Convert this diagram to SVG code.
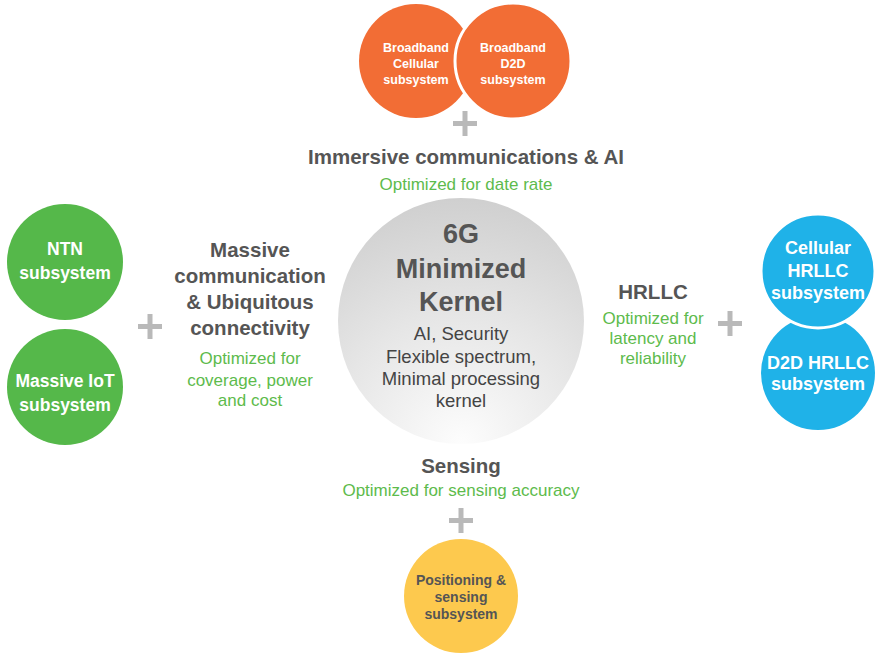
<svg xmlns="http://www.w3.org/2000/svg" width="882" height="653" viewBox="0 0 882 653">
<defs>
<radialGradient id="kg" cx="0.5" cy="1.0" r="1.05" fx="0.5" fy="1.0">
<stop offset="0" stop-color="#fdfdfd"/>
<stop offset="0.5" stop-color="#e6e6e6"/>
<stop offset="1" stop-color="#cdcdcd"/>
</radialGradient>
</defs>
<style>
text{font-family:"Liberation Sans",Arial,sans-serif;text-anchor:middle}
.t{font-weight:bold;fill:#555555;font-size:20.5px}
.g{fill:#5dbb4c;font-size:17px}
.w{fill:#ffffff;font-weight:bold}
.plus{fill:#b9b9b9}
</style>
<rect width="882" height="653" fill="#ffffff"/>
<g id="connectors">
<path class="plus" d="M453,121h24v5h-24z M462.5,111h5v25h-5z"/>
<path class="plus" d="M138,324h24v5h-24z M147.5,314h5v25h-5z"/>
<path class="plus" d="M718,321h24v5h-24z M727.5,311h5v25h-5z"/>
<path class="plus" d="M449,518h24v5h-24z M458.5,508h5v25h-5z"/>
</g>
<g id="broadband-cellular">
<circle cx="416" cy="61" r="57" fill="#f26d35"/>
<text class="w" font-size="12.5" x="416" y="52">Broadband</text>
<text class="w" font-size="12.5" x="416" y="68">Cellular</text>
<text class="w" font-size="12.5" x="416" y="84">subsystem</text>
</g>
<g id="broadband-d2d">
<circle cx="513" cy="61" r="58" fill="#f26d35" stroke="#ffffff" stroke-width="3"/>
<text class="w" font-size="12.5" x="513" y="52">Broadband</text>
<text class="w" font-size="12.5" x="513" y="68">D2D</text>
<text class="w" font-size="12.5" x="513" y="84">subsystem</text>
</g>
<g id="immersive">
<text class="t" x="466" y="164">Immersive communications &amp; AI</text>
<text class="g" x="466" y="190">Optimized for date rate</text>
</g>
<g id="kernel">
<circle cx="461" cy="321" r="123" fill="url(#kg)"/>
<text font-size="27" font-weight="bold" fill="#555555" x="461" y="243">6G</text>
<text font-size="27" font-weight="bold" fill="#555555" x="461" y="278">Minimized</text>
<text font-size="27" font-weight="bold" fill="#555555" x="461" y="311">Kernel</text>
<text font-size="18.5" fill="#444444" x="461" y="340">AI, Security</text>
<text font-size="18.5" fill="#444444" x="461" y="363">Flexible spectrum,</text>
<text font-size="18.5" fill="#444444" x="461" y="385">Minimal processing</text>
<text font-size="18.5" fill="#444444" x="461" y="407">kernel</text>
</g>
<g id="ntn">
<circle cx="65" cy="262" r="58" fill="#55b84a"/>
<text class="w" font-size="17.5" x="65" y="255">NTN</text>
<text class="w" font-size="17.5" x="65" y="279">subsystem</text>
</g>
<g id="massive-iot">
<circle cx="65" cy="387" r="58" fill="#55b84a"/>
<text class="w" font-size="17.5" x="65" y="387">Massive IoT</text>
<text class="w" font-size="17.5" x="65" y="411">subsystem</text>
</g>
<g id="massive">
<text class="t" font-size="21.4" x="250" y="257">Massive</text>
<text class="t" font-size="21.4" x="250" y="283">communication</text>
<text class="t" font-size="21.4" x="250" y="309">&amp; Ubiquitous</text>
<text class="t" font-size="21.4" x="250" y="335">connectivity</text>
<text class="g" x="250" y="364">Optimized for</text>
<text class="g" x="250" y="386">coverage, power</text>
<text class="g" x="250" y="406">and cost</text>
</g>
<g id="hrllc">
<text class="t" x="653" y="299">HRLLC</text>
<text class="g" x="653" y="324">Optimized for</text>
<text class="g" x="653" y="344">latency and</text>
<text class="g" x="653" y="364">reliability</text>
</g>
<g id="d2d-hrllc">
<circle cx="818" cy="373" r="57" fill="#1fb2e8"/>
<text class="w" font-size="18" x="818" y="369">D2D HRLLC</text>
<text class="w" font-size="18" x="818" y="390">subsystem</text>
</g>
<g id="cellular-hrllc">
<circle cx="818" cy="271" r="57" fill="#1fb2e8" stroke="#ffffff" stroke-width="3"/>
<text class="w" font-size="18" x="818" y="254">Cellular</text>
<text class="w" font-size="18" x="818" y="277">HRLLC</text>
<text class="w" font-size="18" x="818" y="299">subsystem</text>
</g>
<g id="sensing">
<text class="t" x="461" y="473">Sensing</text>
<text class="g" x="461" y="496">Optimized for sensing accuracy</text>
</g>
<g id="positioning">
<circle cx="461" cy="596" r="57" fill="#fdc94e"/>
<text font-size="14" font-weight="bold" fill="#555555" x="461" y="585">Positioning &amp;</text>
<text font-size="14" font-weight="bold" fill="#555555" x="461" y="602">sensing</text>
<text font-size="14" font-weight="bold" fill="#555555" x="461" y="619">subsystem</text>
</g>
</svg>
